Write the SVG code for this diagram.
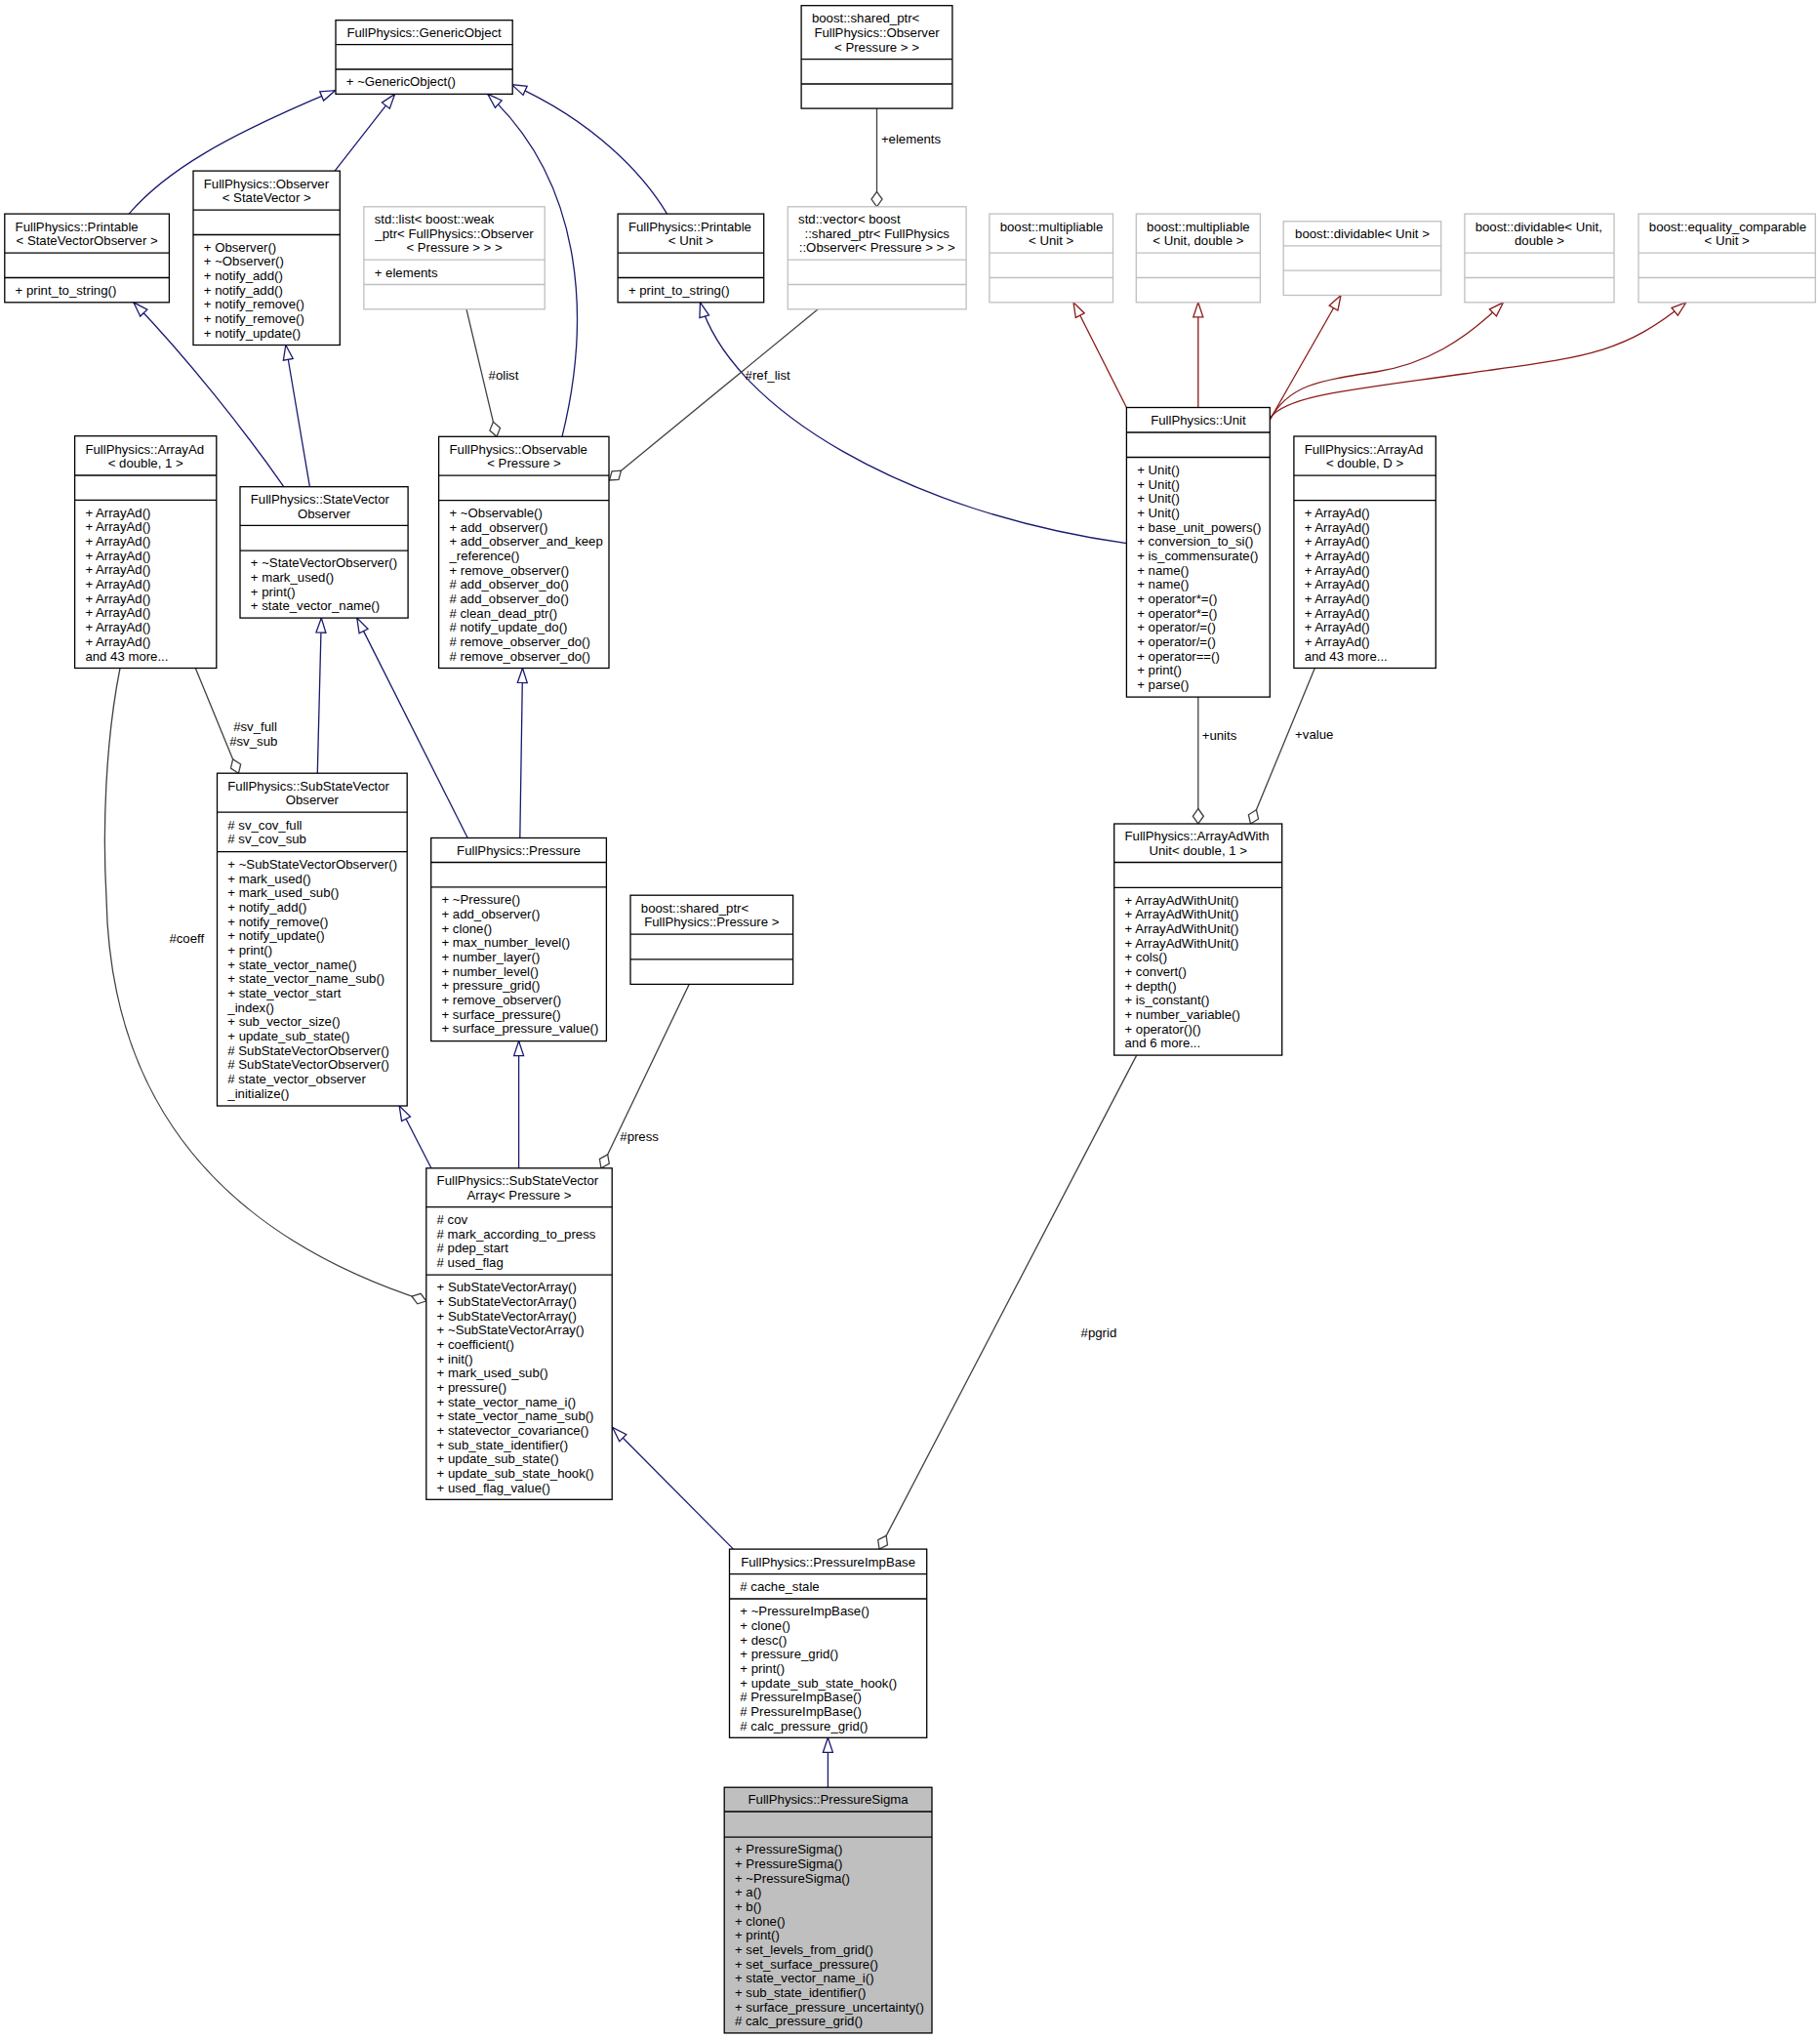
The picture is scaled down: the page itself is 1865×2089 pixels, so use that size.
<svg xmlns="http://www.w3.org/2000/svg" width="1865" height="2089" viewBox="0 0 1865 2089">
<style>
text{font-family:"Liberation Sans",Arial,Helvetica,sans-serif;font-size:13.2px;fill:#000}
.c{text-anchor:middle}
.n rect{fill:#fff;stroke:#000;stroke-width:1.3}
.n line{stroke:#000;stroke-width:1.3}
.g rect{fill:#fff;stroke:#bfbfbf;stroke-width:1.3}
.g line{stroke:#bfbfbf;stroke-width:1.3}
.s rect{fill:#bfbfbf;stroke:#000;stroke-width:1.3}
.s line{stroke:#000;stroke-width:1.3}
.eb{fill:none;stroke:#191970;stroke-width:1.3;marker-end:url(#ib)}
.er{fill:none;stroke:#8b1a1a;stroke-width:1.3;marker-end:url(#ir)}
.eu{fill:none;stroke:#404040;stroke-width:1.3;marker-end:url(#dm)}
</style>
<defs>
<marker id="ib" markerUnits="userSpaceOnUse" markerWidth="17" markerHeight="13" viewBox="0 0 17 13" refX="16" refY="6.5" orient="auto"><path d="M1,1.5 L16,6.5 L1,11.5 z" fill="#fff" stroke="#191970" stroke-width="1.3"/></marker>
<marker id="ir" markerUnits="userSpaceOnUse" markerWidth="17" markerHeight="13" viewBox="0 0 17 13" refX="16" refY="6.5" orient="auto"><path d="M1,1.5 L16,6.5 L1,11.5 z" fill="#fff" stroke="#8b1a1a" stroke-width="1.3"/></marker>
<marker id="dm" markerUnits="userSpaceOnUse" markerWidth="18" markerHeight="13" viewBox="0 0 18 13" refX="16.5" refY="6.5" orient="auto"><path d="M1,6.5 L8.75,1 L16.5,6.5 L8.75,12 z" fill="#fff" stroke="#404040" stroke-width="1.3"/></marker>
</defs>
<rect width="1865" height="2089" fill="#fff"/>

<g id="edges">
<path class="eb" d="M132.1,219.1 C170,175 230,140 343.5,92.7"/>
<path class="eb" d="M343.1,175.1 L404.6,96.4"/>
<path class="eb" d="M576,447.3 C605,330 600,190 499.8,96.4"/>
<path class="eb" d="M683.5,219.1 C660,180 610,125 524.4,86.7"/>
<path class="eb" d="M290.8,498.7 C250,440 190,365 136.9,309.8"/>
<path class="eb" d="M317.4,498.7 L292.8,353.5"/>
<path class="eb" d="M325.3,792.2 L329.3,633.1"/>
<path class="eb" d="M479.2,858.5 L365.8,633.1"/>
<path class="eb" d="M532.8,858.5 L535.5,684.5"/>
<path class="eb" d="M441.9,1196.8 L409.2,1133"/>
<path class="eb" d="M531.6,1196.8 L531.6,1066.6"/>
<path class="eb" d="M751.5,1587.1 L627.7,1462.5"/>
<path class="eb" d="M848.4,1831.2 L848.4,1780.3"/>
<path class="eb" d="M1154.4,556.7 C930,525 750,420 717.5,309.8"/>
<path class="er" d="M1154.4,417.5 L1100,309.8"/>
<path class="er" d="M1227.8,417.5 L1227.8,309.8"/>
<path class="er" d="M1301.3,430 L1374,302.5"/>
<path class="er" d="M1301.3,430 C1320,395 1350,390 1410,381 C1460,373 1500,350 1540.5,309.8"/>
<path class="er" d="M1301.3,428 C1320,405 1380,400 1500,383 C1620,366 1660,365 1727.8,309.8"/>
<path class="eu" d="M898.5,111.1 L898.5,211.8"/>
<path class="eu" d="M478,316.8 L509,447.3"/>
<path class="eu" d="M838.2,316.8 L624.5,492"/>
<path class="eu" d="M200.3,684.5 L244.5,792.2"/>
<path class="eu" d="M123,684.5 C108,760 105,850 109,920 C112,1080 180,1250 436.8,1333"/>
<path class="eu" d="M706.2,1008.4 L616,1196.8"/>
<path class="eu" d="M1227.8,714.1 L1227.8,844"/>
<path class="eu" d="M1347.3,684.5 L1281.5,844"/>
<path class="eu" d="M1164.7,1081.1 L901,1587.1"/>
<text x="902.9" y="147.4">+elements</text>
<text x="500.6" y="388.9">#olist</text>
<text x="763.6" y="389">#ref_list</text>
<text x="239.2" y="748.9">#sv_full</text>
<text x="235.2" y="764.2">#sv_sub</text>
<text x="173.4" y="966">#coeff</text>
<text x="635.3" y="1168.5">#press</text>
<text x="1231.7" y="758.2">+units</text>
<text x="1327.1" y="757.2">+value</text>
<text x="1107.6" y="1370.2">#pgrid</text>
</g>

<g id="GenericObject" class="n">
<rect x="344" y="20.7" width="181.2" height="75.7"/>
<line x1="344" y1="45.7" x2="525.2" y2="45.7"/><line x1="344" y1="71" x2="525.2" y2="71"/>
<text class="c" x="434.6" y="37.9">FullPhysics::GenericObject</text>
<text x="354.8" y="88.4">+ ~GenericObject()</text>
</g>

<g id="PrintableSVO" class="n">
<rect x="4.8" y="219.1" width="168.6" height="90.7"/>
<line x1="4.8" y1="259.1" x2="173.4" y2="259.1"/><line x1="4.8" y1="284.5" x2="173.4" y2="284.5"/>
<text x="15.6" y="236.5">FullPhysics::Printable</text>
<text class="c" x="89.1" y="251.1">&lt; StateVectorObserver &gt;</text>
<text x="15.6" y="301.9">+ print_to_string()</text>
</g>

<g id="ObserverSV" class="n">
<rect x="198" y="175.1" width="150.3" height="178.4"/>
<line x1="198" y1="215.1" x2="348.3" y2="215.1"/><line x1="198" y1="240.5" x2="348.3" y2="240.5"/>
<text x="208.8" y="192.5">FullPhysics::Observer</text>
<text class="c" x="273.2" y="207.1">&lt; StateVector &gt;</text>
<text x="208.8" y="257.7">+ Observer()<tspan x="208.8" dy="14.67">+ ~Observer()</tspan><tspan x="208.8" dy="14.67">+ notify_add()</tspan><tspan x="208.8" dy="14.67">+ notify_add()</tspan><tspan x="208.8" dy="14.67">+ notify_remove()</tspan><tspan x="208.8" dy="14.67">+ notify_remove()</tspan><tspan x="208.8" dy="14.67">+ notify_update()</tspan></text>
</g>

<g id="StdList" class="g">
<rect x="372.9" y="211.8" width="185.3" height="105"/>
<line x1="372.9" y1="266.1" x2="558.2" y2="266.1"/><line x1="372.9" y1="291.5" x2="558.2" y2="291.5"/>
<text x="383.7" y="229">std::list&lt; boost::weak</text>
<text class="c" x="465.5" y="243.7">_ptr&lt; FullPhysics::Observer</text>
<text class="c" x="465.5" y="258.4">&lt; Pressure &gt; &gt; &gt;</text>
<text x="383.7" y="283.5">+ elements</text>
</g>

<g id="Observable" class="n">
<rect x="449.6" y="447.3" width="174.4" height="237.2"/>
<line x1="449.6" y1="487.2" x2="624" y2="487.2"/><line x1="449.6" y1="512.6" x2="624" y2="512.6"/>
<text x="460.5" y="464.5">FullPhysics::Observable</text>
<text class="c" x="537" y="479.2">&lt; Pressure &gt;</text>
<text x="460.5" y="529.9">+ ~Observable()<tspan x="460.5" dy="14.67">+ add_observer()</tspan><tspan x="460.5" dy="14.67">+ add_observer_and_keep</tspan><tspan x="460.5" dy="14.67">_reference()</tspan><tspan x="460.5" dy="14.67">+ remove_observer()</tspan><tspan x="460.5" dy="14.67"># add_observer_do()</tspan><tspan x="460.5" dy="14.67"># add_observer_do()</tspan><tspan x="460.5" dy="14.67"># clean_dead_ptr()</tspan><tspan x="460.5" dy="14.67"># notify_update_do()</tspan><tspan x="460.5" dy="14.67"># remove_observer_do()</tspan><tspan x="460.5" dy="14.67"># remove_observer_do()</tspan></text>
</g>

<g id="SharedPtrObserver" class="n">
<rect x="821.1" y="5.7" width="154.8" height="105.4"/>
<line x1="821.1" y1="60.7" x2="975.9" y2="60.7"/><line x1="821.1" y1="86" x2="975.9" y2="86"/>
<text x="831.9" y="23.2">boost::shared_ptr&lt;</text>
<text class="c" x="898.5" y="37.9">FullPhysics::Observer</text>
<text class="c" x="898.5" y="52.6">&lt; Pressure &gt; &gt;</text>
</g>

<g id="PrintableUnit" class="n">
<rect x="633.1" y="219.1" width="149.6" height="90.7"/>
<line x1="633.1" y1="259.1" x2="782.7" y2="259.1"/><line x1="633.1" y1="284.5" x2="782.7" y2="284.5"/>
<text x="643.9" y="236.5">FullPhysics::Printable</text>
<text class="c" x="707.9" y="251.1">&lt; Unit &gt;</text>
<text x="643.9" y="301.9">+ print_to_string()</text>
</g>

<g id="StdVector" class="g">
<rect x="807.3" y="211.8" width="182.8" height="105"/>
<line x1="807.3" y1="266.1" x2="990.1" y2="266.1"/><line x1="807.3" y1="291.5" x2="990.1" y2="291.5"/>
<text x="818.1" y="229">std::vector&lt; boost</text>
<text class="c" x="898.7" y="243.7">::shared_ptr&lt; FullPhysics</text>
<text class="c" x="898.7" y="258.4">::Observer&lt; Pressure &gt; &gt; &gt;</text>
</g>

<g id="MultUnit" class="g">
<rect x="1013.9" y="219.1" width="126.6" height="90.7"/>
<line x1="1013.9" y1="259.1" x2="1140.5" y2="259.1"/><line x1="1013.9" y1="284.5" x2="1140.5" y2="284.5"/>
<text x="1024.7" y="236.5">boost::multipliable</text>
<text class="c" x="1077.2" y="251.1">&lt; Unit &gt;</text>
</g>

<g id="MultUnitDouble" class="g">
<rect x="1164.3" y="219.1" width="127.1" height="90.7"/>
<line x1="1164.3" y1="259.1" x2="1291.4" y2="259.1"/><line x1="1164.3" y1="284.5" x2="1291.4" y2="284.5"/>
<text x="1175.1" y="236.5">boost::multipliable</text>
<text class="c" x="1227.9" y="251.1">&lt; Unit, double &gt;</text>
</g>

<g id="DivUnit" class="g">
<rect x="1315.2" y="226.8" width="161.5" height="75.7"/>
<line x1="1315.2" y1="251.8" x2="1476.7" y2="251.8"/><line x1="1315.2" y1="277.1" x2="1476.7" y2="277.1"/>
<text class="c" x="1396" y="244">boost::dividable&lt; Unit &gt;</text>
</g>

<g id="DivUnitDouble" class="g">
<rect x="1500.9" y="219.1" width="153.1" height="90.7"/>
<line x1="1500.9" y1="259.1" x2="1654" y2="259.1"/><line x1="1500.9" y1="284.5" x2="1654" y2="284.5"/>
<text x="1511.7" y="236.5">boost::dividable&lt; Unit,</text>
<text class="c" x="1577.5" y="251.1">double &gt;</text>
</g>

<g id="EqUnit" class="g">
<rect x="1679" y="219.1" width="181.3" height="90.7"/>
<line x1="1679" y1="259.1" x2="1860.3" y2="259.1"/><line x1="1679" y1="284.5" x2="1860.3" y2="284.5"/>
<text x="1689.8" y="236.5">boost::equality_comparable</text>
<text class="c" x="1769.7" y="251.1">&lt; Unit &gt;</text>
</g>

<g id="Unit" class="n">
<rect x="1154.4" y="417.5" width="146.9" height="296.6"/>
<line x1="1154.4" y1="443" x2="1301.3" y2="443"/><line x1="1154.4" y1="468.5" x2="1301.3" y2="468.5"/>
<text class="c" x="1227.9" y="435">FullPhysics::Unit</text>
<text x="1165.2" y="486">+ Unit()<tspan x="1165.2" dy="14.67">+ Unit()</tspan><tspan x="1165.2" dy="14.67">+ Unit()</tspan><tspan x="1165.2" dy="14.67">+ Unit()</tspan><tspan x="1165.2" dy="14.67">+ base_unit_powers()</tspan><tspan x="1165.2" dy="14.67">+ conversion_to_si()</tspan><tspan x="1165.2" dy="14.67">+ is_commensurate()</tspan><tspan x="1165.2" dy="14.67">+ name()</tspan><tspan x="1165.2" dy="14.67">+ name()</tspan><tspan x="1165.2" dy="14.67">+ operator*=()</tspan><tspan x="1165.2" dy="14.67">+ operator*=()</tspan><tspan x="1165.2" dy="14.67">+ operator/=()</tspan><tspan x="1165.2" dy="14.67">+ operator/=()</tspan><tspan x="1165.2" dy="14.67">+ operator==()</tspan><tspan x="1165.2" dy="14.67">+ print()</tspan><tspan x="1165.2" dy="14.67">+ parse()</tspan></text>
</g>

<g id="ArrayAdD" class="n">
<rect x="1325.9" y="447" width="145.4" height="237.5"/>
<line x1="1325.9" y1="487.2" x2="1471.3" y2="487.2"/><line x1="1325.9" y1="512.6" x2="1471.3" y2="512.6"/>
<text x="1336.7" y="464.5">FullPhysics::ArrayAd</text>
<text class="c" x="1398.6" y="479.2">&lt; double, D &gt;</text>
<text x="1336.7" y="529.9">+ ArrayAd()<tspan x="1336.7" dy="14.67">+ ArrayAd()</tspan><tspan x="1336.7" dy="14.67">+ ArrayAd()</tspan><tspan x="1336.7" dy="14.67">+ ArrayAd()</tspan><tspan x="1336.7" dy="14.67">+ ArrayAd()</tspan><tspan x="1336.7" dy="14.67">+ ArrayAd()</tspan><tspan x="1336.7" dy="14.67">+ ArrayAd()</tspan><tspan x="1336.7" dy="14.67">+ ArrayAd()</tspan><tspan x="1336.7" dy="14.67">+ ArrayAd()</tspan><tspan x="1336.7" dy="14.67">+ ArrayAd()</tspan><tspan x="1336.7" dy="14.67">and 43 more...</tspan></text>
</g>

<g id="ArrayAd1" class="n">
<rect x="76.6" y="446.7" width="145.2" height="237.8"/>
<line x1="76.6" y1="487" x2="221.8" y2="487"/><line x1="76.6" y1="512.4" x2="221.8" y2="512.4"/>
<text x="87.4" y="464.5">FullPhysics::ArrayAd</text>
<text class="c" x="149.2" y="479.2">&lt; double, 1 &gt;</text>
<text x="87.4" y="529.8">+ ArrayAd()<tspan x="87.4" dy="14.67">+ ArrayAd()</tspan><tspan x="87.4" dy="14.67">+ ArrayAd()</tspan><tspan x="87.4" dy="14.67">+ ArrayAd()</tspan><tspan x="87.4" dy="14.67">+ ArrayAd()</tspan><tspan x="87.4" dy="14.67">+ ArrayAd()</tspan><tspan x="87.4" dy="14.67">+ ArrayAd()</tspan><tspan x="87.4" dy="14.67">+ ArrayAd()</tspan><tspan x="87.4" dy="14.67">+ ArrayAd()</tspan><tspan x="87.4" dy="14.67">+ ArrayAd()</tspan><tspan x="87.4" dy="14.67">and 43 more...</tspan></text>
</g>

<g id="StateVectorObserver" class="n">
<rect x="246" y="498.7" width="172.1" height="134.4"/>
<line x1="246" y1="538.4" x2="418.1" y2="538.4"/><line x1="246" y1="564.1" x2="418.1" y2="564.1"/>
<text x="256.8" y="515.9">FullPhysics::StateVector</text>
<text class="c" x="332" y="530.5">Observer</text>
<text x="256.8" y="581.3">+ ~StateVectorObserver()<tspan x="256.8" dy="14.67">+ mark_used()</tspan><tspan x="256.8" dy="14.67">+ print()</tspan><tspan x="256.8" dy="14.67">+ state_vector_name()</tspan></text>
</g>

<g id="SubStateVectorObserver" class="n">
<rect x="222.5" y="792.2" width="194.7" height="340.8"/>
<line x1="222.5" y1="832.2" x2="417.2" y2="832.2"/><line x1="222.5" y1="872.6" x2="417.2" y2="872.6"/>
<text x="233.3" y="809.6">FullPhysics::SubStateVector</text>
<text class="c" x="319.9" y="824.2">Observer</text>
<text x="233.3" y="849.8"># sv_cov_full<tspan x="233.3" dy="14.67"># sv_cov_sub</tspan></text>
<text x="233.3" y="890.1">+ ~SubStateVectorObserver()<tspan x="233.3" dy="14.67">+ mark_used()</tspan><tspan x="233.3" dy="14.67">+ mark_used_sub()</tspan><tspan x="233.3" dy="14.67">+ notify_add()</tspan><tspan x="233.3" dy="14.67">+ notify_remove()</tspan><tspan x="233.3" dy="14.67">+ notify_update()</tspan><tspan x="233.3" dy="14.67">+ print()</tspan><tspan x="233.3" dy="14.67">+ state_vector_name()</tspan><tspan x="233.3" dy="14.67">+ state_vector_name_sub()</tspan><tspan x="233.3" dy="14.67">+ state_vector_start</tspan><tspan x="233.3" dy="14.67">_index()</tspan><tspan x="233.3" dy="14.67">+ sub_vector_size()</tspan><tspan x="233.3" dy="14.67">+ update_sub_state()</tspan><tspan x="233.3" dy="14.67"># SubStateVectorObserver()</tspan><tspan x="233.3" dy="14.67"># SubStateVectorObserver()</tspan><tspan x="233.3" dy="14.67"># state_vector_observer</tspan><tspan x="233.3" dy="14.67">_initialize()</tspan></text>
</g>

<g id="Pressure" class="n">
<rect x="441.7" y="858.5" width="179.7" height="208.1"/>
<line x1="441.7" y1="883.5" x2="621.4" y2="883.5"/><line x1="441.7" y1="908.9" x2="621.4" y2="908.9"/>
<text class="c" x="531.5" y="875.7">FullPhysics::Pressure</text>
<text x="452.5" y="926.4">+ ~Pressure()<tspan x="452.5" dy="14.67">+ add_observer()</tspan><tspan x="452.5" dy="14.67">+ clone()</tspan><tspan x="452.5" dy="14.67">+ max_number_level()</tspan><tspan x="452.5" dy="14.67">+ number_layer()</tspan><tspan x="452.5" dy="14.67">+ number_level()</tspan><tspan x="452.5" dy="14.67">+ pressure_grid()</tspan><tspan x="452.5" dy="14.67">+ remove_observer()</tspan><tspan x="452.5" dy="14.67">+ surface_pressure()</tspan><tspan x="452.5" dy="14.67">+ surface_pressure_value()</tspan></text>
</g>

<g id="SharedPtrPressure" class="n">
<rect x="646" y="917.2" width="166.6" height="91.2"/>
<line x1="646" y1="957.2" x2="812.6" y2="957.2"/><line x1="646" y1="982.9" x2="812.6" y2="982.9"/>
<text x="656.8" y="934.6">boost::shared_ptr&lt;</text>
<text class="c" x="729.3" y="949.2">FullPhysics::Pressure &gt;</text>
</g>

<g id="ArrayAdWithUnit" class="n">
<rect x="1141.7" y="844" width="172" height="237.1"/>
<line x1="1141.7" y1="883.5" x2="1313.7" y2="883.5"/><line x1="1141.7" y1="909.3" x2="1313.7" y2="909.3"/>
<text x="1152.5" y="861.2">FullPhysics::ArrayAdWith</text>
<text class="c" x="1227.7" y="875.8">Unit&lt; double, 1 &gt;</text>
<text x="1152.5" y="926.6">+ ArrayAdWithUnit()<tspan x="1152.5" dy="14.67">+ ArrayAdWithUnit()</tspan><tspan x="1152.5" dy="14.67">+ ArrayAdWithUnit()</tspan><tspan x="1152.5" dy="14.67">+ ArrayAdWithUnit()</tspan><tspan x="1152.5" dy="14.67">+ cols()</tspan><tspan x="1152.5" dy="14.67">+ convert()</tspan><tspan x="1152.5" dy="14.67">+ depth()</tspan><tspan x="1152.5" dy="14.67">+ is_constant()</tspan><tspan x="1152.5" dy="14.67">+ number_variable()</tspan><tspan x="1152.5" dy="14.67">+ operator()()</tspan><tspan x="1152.5" dy="14.67">and 6 more...</tspan></text>
</g>

<g id="SubStateVectorArray" class="n">
<rect x="436.8" y="1196.8" width="190.4" height="339.5"/>
<line x1="436.8" y1="1236.6" x2="627.2" y2="1236.6"/><line x1="436.8" y1="1306.2" x2="627.2" y2="1306.2"/>
<text x="447.6" y="1214.1">FullPhysics::SubStateVector</text>
<text class="c" x="532" y="1228.7">Array&lt; Pressure &gt;</text>
<text x="447.6" y="1254.1"># cov<tspan x="447.6" dy="14.67"># mark_according_to_press</tspan><tspan x="447.6" dy="14.67"># pdep_start</tspan><tspan x="447.6" dy="14.67"># used_flag</tspan></text>
<text x="447.6" y="1323.3">+ SubStateVectorArray()<tspan x="447.6" dy="14.67">+ SubStateVectorArray()</tspan><tspan x="447.6" dy="14.67">+ SubStateVectorArray()</tspan><tspan x="447.6" dy="14.67">+ ~SubStateVectorArray()</tspan><tspan x="447.6" dy="14.67">+ coefficient()</tspan><tspan x="447.6" dy="14.67">+ init()</tspan><tspan x="447.6" dy="14.67">+ mark_used_sub()</tspan><tspan x="447.6" dy="14.67">+ pressure()</tspan><tspan x="447.6" dy="14.67">+ state_vector_name_i()</tspan><tspan x="447.6" dy="14.67">+ state_vector_name_sub()</tspan><tspan x="447.6" dy="14.67">+ statevector_covariance()</tspan><tspan x="447.6" dy="14.67">+ sub_state_identifier()</tspan><tspan x="447.6" dy="14.67">+ update_sub_state()</tspan><tspan x="447.6" dy="14.67">+ update_sub_state_hook()</tspan><tspan x="447.6" dy="14.67">+ used_flag_value()</tspan></text>
</g>

<g id="PressureImpBase" class="n">
<rect x="747.5" y="1587.1" width="202.2" height="193.2"/>
<line x1="747.5" y1="1612.6" x2="949.7" y2="1612.6"/><line x1="747.5" y1="1638" x2="949.7" y2="1638"/>
<text class="c" x="848.6" y="1604.6">FullPhysics::PressureImpBase</text>
<text x="758.3" y="1630"># cache_stale</text>
<text x="758.3" y="1655.2">+ ~PressureImpBase()<tspan x="758.3" dy="14.67">+ clone()</tspan><tspan x="758.3" dy="14.67">+ desc()</tspan><tspan x="758.3" dy="14.67">+ pressure_grid()</tspan><tspan x="758.3" dy="14.67">+ print()</tspan><tspan x="758.3" dy="14.67">+ update_sub_state_hook()</tspan><tspan x="758.3" dy="14.67"># PressureImpBase()</tspan><tspan x="758.3" dy="14.67"># PressureImpBase()</tspan><tspan x="758.3" dy="14.67"># calc_pressure_grid()</tspan></text>
</g>

<g id="PressureSigma" class="s">
<rect x="742.2" y="1831.2" width="212.8" height="251.7"/>
<line x1="742.2" y1="1856" x2="955" y2="1856"/><line x1="742.2" y1="1882.1" x2="955" y2="1882.1"/>
<text class="c" x="848.6" y="1848.3">FullPhysics::PressureSigma</text>
<text x="753" y="1899.2">+ PressureSigma()<tspan x="753" dy="14.67">+ PressureSigma()</tspan><tspan x="753" dy="14.67">+ ~PressureSigma()</tspan><tspan x="753" dy="14.67">+ a()</tspan><tspan x="753" dy="14.67">+ b()</tspan><tspan x="753" dy="14.67">+ clone()</tspan><tspan x="753" dy="14.67">+ print()</tspan><tspan x="753" dy="14.67">+ set_levels_from_grid()</tspan><tspan x="753" dy="14.67">+ set_surface_pressure()</tspan><tspan x="753" dy="14.67">+ state_vector_name_i()</tspan><tspan x="753" dy="14.67">+ sub_state_identifier()</tspan><tspan x="753" dy="14.67">+ surface_pressure_uncertainty()</tspan><tspan x="753" dy="14.67"># calc_pressure_grid()</tspan></text>
</g>
</svg>
